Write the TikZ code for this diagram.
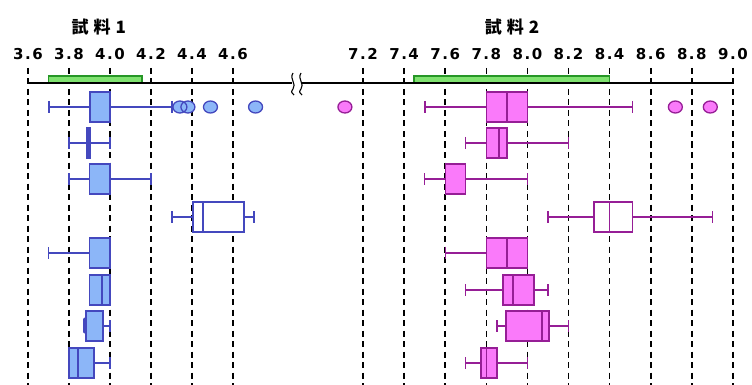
\documentclass[tikz,border=0pt]{standalone}
\usepackage{fontspec}
\newfontfamily\cjkfont{Noto Sans CJK JP}
\newfontfamily\numfont[LetterSpace=10]{DejaVu Sans}

\definecolor{bluefill}{RGB}{140,182,248}
\definecolor{bluedraw}{RGB}{68,72,190}
\definecolor{pinkfill}{RGB}{250,122,250}
\definecolor{pinkdraw}{RGB}{150,30,150}
\definecolor{barfill}{RGB}{128,226,112}
\definecolor{bardraw}{RGB}{38,150,38}

\tikzset{
  left axis/.style={x=205pt, xshift=-710pt},
  right axis/.style={x=205.5pt, xshift=-1116.6pt},
  grid line/.style={line width=1.6pt, dash pattern=on 6pt off 4.5pt},
  tick label/.style={font=\numfont\bfseries\fontsize{15}{15}\selectfont, inner sep=0pt},
  title label/.style={font=\cjkfont\bfseries\fontsize{17}{17}\selectfont, inner sep=0pt},
  blue line/.style={draw=bluedraw, line width=1.3pt},
  blue box/.style={draw=bluedraw, fill=bluefill, line width=1.3pt},
  pink line/.style={draw=pinkdraw, line width=1.3pt},
  pink box/.style={draw=pinkdraw, fill=pinkfill, line width=1.3pt},
  range bar/.style={draw=bardraw, fill=barfill, line width=1.1pt},
}

% \bxp[box options]{colour}{row y}{wmin}{q1}{median}{q3}{wmax}
\newcommand\bxp[8][]{%
  \draw[#2 line] (#4,#3) -- (#5,#3) (#7,#3) -- (#8,#3);
  \draw[#2 line] (#4,#3-6) -- (#4,#3+6) (#8,#3-6) -- (#8,#3+6);
  \filldraw[#2 box,#1] (#5,#3-15) rectangle (#7,#3+15);
  \draw[#2 line] (#6,#3-15) -- (#6,#3+15);
}

\begin{document}
\begin{tikzpicture}[x=1pt, y=-1pt]
  \useasboundingbox (0,0) rectangle (752,385);

  % sample 1 axis
  \begin{scope}[left axis]
    \foreach \v [count=\i] in {3.6,3.8,4.0,4.2,4.4,4.6} {
      \draw[grid line] (\v,68) -- (\v,390);
      \node[tick label] (la\i) at (\v,54) {\v};
    }
    \node[title label] (t1) at (3.945,27) {試\hspace{5pt}料\hspace{5pt}1};
    \filldraw[range bar] (3.702,76) rectangle (4.156,83);
  \end{scope}

  % sample 2 axis
  \begin{scope}[right axis]
    \foreach \v [count=\i] in {7.2,7.4,7.6,7.8,8.0,8.2,8.4,8.6,8.8,9.0} {
      \draw[grid line] (\v,68) -- (\v,390);
      \node[tick label] (lb\i) at (\v,54) {\v};
    }
    \node[title label] (t2) at (7.925,27) {試\hspace{5pt}料\hspace{5pt}2};
    \filldraw[range bar] (7.448,76) rectangle (8.4,83);
  \end{scope}

  % axis line with break
  \draw[line width=1.1pt] (28,83) -- (292,83) (302,83) -- (734,83);
  \draw[line width=1.1pt] (293,73) .. controls (289,79) and (297,84) .. (293,89)
                          .. controls (291,92) .. (294,95);
  \draw[line width=1.1pt] (301,73) .. controls (297,79) and (305,84) .. (301,89)
                          .. controls (299,92) .. (302,95);

  % sample 1 boxes
  \begin{scope}[left axis]
    \bxp{blue}{107}{3.702}{3.902}{4.0}{4.0}{4.302}
    \fill[bluefill, draw=bluedraw, line width=1.3pt]
      (4.341,107) ellipse [x radius=7pt, y radius=6pt]
      (4.38,107) ellipse [x radius=7pt, y radius=6pt]
      (4.49,107) ellipse [x radius=7pt, y radius=6pt]
      (4.71,107) ellipse [x radius=7pt, y radius=6pt];
    \bxp{blue}{143}{3.8}{3.888}{3.895}{3.902}{4.0}
    \draw[blue line, line width=3pt] (3.895,128) -- (3.895,157);
    \bxp{blue}{179}{3.8}{3.9}{4.0}{4.0}{4.2}
    \bxp[fill=white]{blue}{217}{4.302}{4.405}{4.454}{4.654}{4.702}
    \bxp{blue}{253}{3.7}{3.9}{4.0}{4.0}{4.0}
    \bxp{blue}{290}{3.9}{3.9}{3.961}{4.0}{4.0}
    \bxp{blue}{326}{3.883}{3.883}{3.883}{3.966}{4.0}
    \draw[blue line, line width=3pt, line cap=round] (3.878,319) -- (3.878,332);
    \bxp{blue}{363}{3.8}{3.8}{3.844}{3.922}{4.0}
  \end{scope}

  % sample 2 boxes
  \begin{scope}[right axis]
    \bxp{pink}{107}{7.502}{7.8}{7.9}{8.0}{8.51}
    \fill[pinkfill, draw=pinkdraw, line width=1.3pt]
      (7.112,107) ellipse [x radius=7pt, y radius=6pt]
      (8.72,107) ellipse [x radius=7pt, y radius=6pt]
      (8.89,107) ellipse [x radius=7pt, y radius=6pt];
    \bxp{pink}{143}{7.7}{7.8}{7.862}{7.9}{8.2}
    \bxp{pink}{179}{7.5}{7.6}{7.6}{7.7}{8.0}
    \bxp[fill=white]{pink}{217}{8.1}{8.324}{8.4}{8.51}{8.9}
    \bxp{pink}{253}{7.6}{7.8}{7.9}{8.0}{8.0}
    \bxp{pink}{290}{7.7}{7.881}{7.93}{8.032}{8.1}
    \bxp{pink}{326}{7.852}{7.896}{8.071}{8.105}{8.2}
    \bxp{pink}{363}{7.7}{7.774}{7.8}{7.852}{8.0}
  \end{scope}
\end{tikzpicture}
\end{document}
